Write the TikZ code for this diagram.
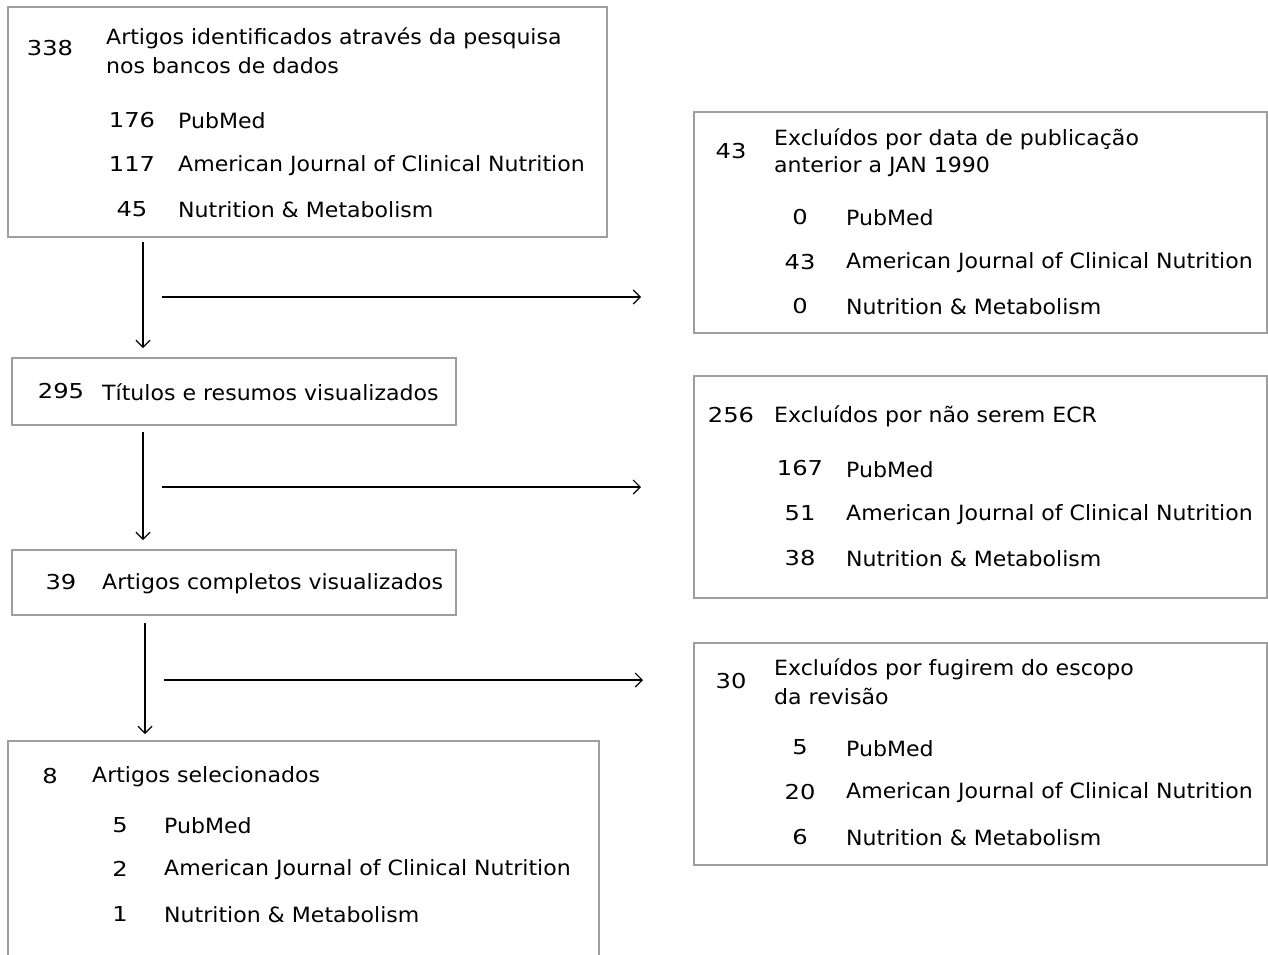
\documentclass[tikz,border=0pt]{standalone}
\usepackage{fontspec}
\setmainfont{DejaVu Sans}
\newfontfamily\txtfont[FakeStretch=1.05]{DejaVu Sans}
\newfontfamily\numfont[FakeStretch=1.18]{DejaVu Sans}
\usetikzlibrary{arrows.meta}
\begin{document}
\begin{tikzpicture}[x=1pt,y=-1pt,
  box/.style={draw=black!38,line width=1.5pt,inner sep=0pt},
  txt/.style={inner sep=0pt,anchor=west,font=\txtfont\fontsize{21}{24}\selectfont},
  num/.style={inner sep=0pt,anchor=center,font=\numfont\fontsize{20.5}{24}\selectfont},
  flow/.style={line width=1.1pt,-{Straight Barb[length=7pt,width=14pt]}}]
\useasboundingbox (0,0) rectangle (1268,954);
% left boxes
\node[box,minimum width=599pt,minimum height=230pt] (b1) at (307.5,122) {};
\node[box,minimum width=444pt,minimum height=67pt] (b2) at (234,391.5) {};
\node[box,minimum width=444pt,minimum height=65pt] (b3) at (234,582.5) {};
\draw[draw=black!38,line width=1.5pt] (8,960) -- (8,741) -- (599,741) -- (599,960);
% right boxes
\node[box,minimum width=573pt,minimum height=221pt] (r1) at (980.5,222.5) {};
\node[box,minimum width=573pt,minimum height=222pt] (r2) at (980.5,487) {};
\node[box,minimum width=573pt,minimum height=222pt] (r3) at (980.5,754) {};
% box 1 texts
\node[num] (n338) at (50,48) {338};
\node[txt] (t338a) at (106,38) {Artigos identificados através da pesquisa};
\node[txt] (t338b) at (106,66) {nos bancos de dados};
\node[num] (n176) at (132,120) {176};
\node[txt] (l176) at (178,121) {PubMed};
\node[num] (n117) at (132,164) {117};
\node[txt] (l117) at (178,166) {American Journal of Clinical Nutrition};
\node[num] (n45) at (132,209) {45};
\node[txt] (l45) at (178,210) {Nutrition \& Metabolism};
% box 2
\node[num] (n295) at (61,391) {295};
\node[txt] (t295) at (102,392) {Títulos e resumos visualizados};
% box 3
\node[num] (n39) at (61,582) {39};
\node[txt] (t39) at (102,584) {Artigos completos visualizados};
% box 4
\node[num] (n8) at (50,776) {8};
\node[txt] (t8) at (92,777) {Artigos selecionados};
\node[num] (n5b) at (120,825) {5};
\node[txt] (l5b) at (164,826) {PubMed};
\node[num] (n2b) at (120,869) {2};
\node[txt] (l2b) at (164,870) {American Journal of Clinical Nutrition};
\node[num] (n1b) at (120,914) {1};
\node[txt] (l1b) at (164,915) {Nutrition \& Metabolism};
% right box 1
\node[num] (n43) at (731,151) {43};
\node[txt] (t43a) at (774,139) {Excluídos por data de publicação};
\node[txt] (t43b) at (774,167) {anterior a JAN 1990};
\node[num] (n0a) at (800,217) {0};
\node[txt] (l0a) at (846,218) {PubMed};
\node[num] (n43b) at (800,262) {43};
\node[txt] (l43b) at (846,263) {American Journal of Clinical Nutrition};
\node[num] (n0b) at (800,306) {0};
\node[txt] (l0b) at (846,307) {Nutrition \& Metabolism};
% right box 2
\node[num] (n256) at (731,415) {256};
\node[txt] (t256) at (774,416) {Excluídos por não serem ECR};
\node[num] (n167) at (800,468) {167};
\node[txt] (l167) at (846,470) {PubMed};
\node[num] (n51) at (800,513) {51};
\node[txt] (l51) at (846,515) {American Journal of Clinical Nutrition};
\node[num] (n38) at (800,558) {38};
\node[txt] (l38) at (846,559) {Nutrition \& Metabolism};
% right box 3
\node[num] (n30) at (731,681) {30};
\node[txt] (t30a) at (774,669) {Excluídos por fugirem do escopo};
\node[txt] (t30b) at (774,696) {da revisão};
\node[num] (n5c) at (800,747) {5};
\node[txt] (l5c) at (846,749) {PubMed};
\node[num] (n20) at (800,792) {20};
\node[txt] (l20) at (846,793) {American Journal of Clinical Nutrition};
\node[num] (n6) at (800,837) {6};
\node[txt] (l6) at (846,838) {Nutrition \& Metabolism};
% arrow coordinates
\coordinate (v1s) at (143,242); \coordinate (v1e) at (143,348);
\coordinate (h1s) at (162,297); \coordinate (h1e) at (641,297);
\coordinate (v2s) at (143,432); \coordinate (v2e) at (143,540);
\coordinate (h2s) at (162,487); \coordinate (h2e) at (641,487);
\coordinate (v3s) at (145,623); \coordinate (v3e) at (145,734);
\coordinate (h3s) at (164,680); \coordinate (h3e) at (643,680);
\draw[flow] (v1s) -- (v1e);
\draw[flow] (h1s) -- (h1e);
\draw[flow] (v2s) -- (v2e);
\draw[flow] (h2s) -- (h2e);
\draw[flow] (v3s) -- (v3e);
\draw[flow] (h3s) -- (h3e);
\end{tikzpicture}
\end{document}
